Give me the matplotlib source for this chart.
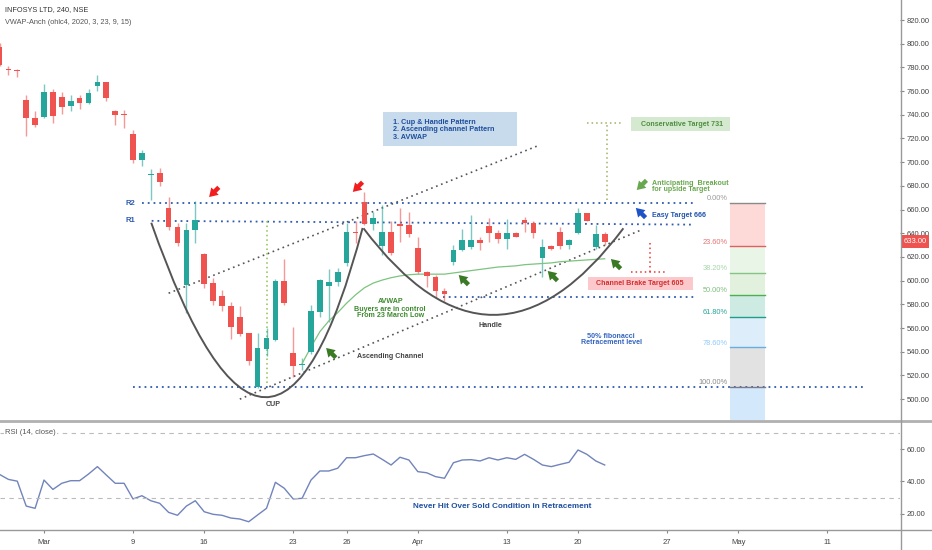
import matplotlib.pyplot as plt
from matplotlib.patches import Rectangle, PathPatch
from matplotlib.path import Path
from matplotlib.lines import Line2D
from matplotlib.transforms import blended_transform_factory

plt.rcParams['font.family'] = ['Liberation Sans', 'DejaVu Sans']

# 240 min bars, x = bar number (0 = first bar of 2 March)
bar_idx = list(range(-5, 64))
opens = [797, 779, 778, 752.5, 737.5, 738.5, 759.5, 755, 747.5, 754,
         750, 764, 768, 743, 740.5, 723.5, 702, 689, 690.5, 661,
         645.5, 596.5, 643, 622.5, 598, 587, 578.5, 569, 555.5, 510.5,
         542.5, 550, 600, 539, 528.5, 540, 573.5, 595.5, 598.5, 615,
         641.5, 666, 648, 629.5, 641.5, 647.5, 647, 627.5, 607, 603.5,
         591.5, 616, 625.5, 628, 634.5, 646.5, 640, 635, 640, 651,
         648.5, 619.5, 629, 641.5, 630, 640.5, 657, 628, 639.5]
highs = [801, 781, 779, 757, 743.5, 766, 761.5, 759, 756.5, 757,
         762, 774, 768, 744, 744, 727, 710, 694, 695, 671,
         649, 649, 667.5, 623, 602, 592, 582, 578.5, 556, 556,
         560, 601, 618, 561, 534.5, 579.5, 601, 609.5, 611, 649,
         650, 675, 658, 664, 650, 661, 658, 637, 608.5, 605,
         593.5, 630, 644, 655.5, 637, 652.5, 643, 652, 641.5, 653.5,
         650, 635, 630, 645.5, 635, 661, 657.5, 647, 641.5]
lows = [781, 774, 772, 722, 730, 737, 733, 741, 743.5, 745,
        749, 760, 752, 731, 729, 699, 697, 668.5, 680, 643,
        629, 572.5, 632, 593.5, 579.5, 574, 550.5, 553, 529, 509.5,
        536, 549, 579.5, 519, 524.5, 538.5, 569.5, 565.5, 595.5, 612.5,
        631.5, 647, 643, 622, 622, 633, 636.5, 606, 594.5, 585,
        582.5, 613, 625, 627, 626, 633, 631.5, 626.5, 636.5, 641.5,
        636, 603.5, 625.5, 627, 627, 639.5, 650, 627, 630]
closes = [782, 778, 777, 737.5, 731, 759.5, 739, 747, 751.5, 750,
          758, 768, 754, 740, 739.5, 702, 707.5, 690, 683, 645.5,
          631.5, 643, 651, 597.5, 583, 578.5, 560.5, 555, 532, 543,
          552, 600, 581, 528, 530, 574, 600.5, 598.5, 607.5, 641.5,
          640, 648, 652.5, 641, 623.5, 646.5, 639.5, 607, 604, 591.5,
          589, 626, 634, 634, 632, 640, 635.5, 640, 637, 648.5,
          640.5, 628, 626.5, 629.5, 634, 657, 650.5, 639.5, 633]

# anchored VWAP from the 23 March low
vwap_idx = list(range(29, 64))
vwap = [530, 544, 557, 566, 573, 581, 588, 594, 598, 600.5,
        602.5, 604, 605, 605.5, 605.5, 605.5, 605.5, 606.5, 607.5, 608.5,
        609.5, 610.5, 611.5, 612, 612.5, 613.5, 614, 614.5, 615, 616,
        616.5, 617, 617.5, 618, 618.5]

# RSI (14, close)
rsi = [44.3, 41.2, 40.1, 24.7, 23.3, 40.8, 35.0, 38.8, 40.4, 40.4,
       44.5, 49.1, 43.9, 38.8, 38.8, 29.1, 31.1, 28.0, 26.4, 20.8,
       19.0, 24.7, 28.0, 21.2, 19.6, 19.0, 17.3, 16.7, 15.0, 19.2,
       23.3, 39.4, 35.7, 29.1, 29.5, 40.8, 46.4, 46.4, 48.1, 54.6,
       54.6, 55.9, 56.9, 53.6, 50.1, 54.9, 53.2, 46.0, 45.3, 42.9,
       41.9, 51.5, 53.2, 53.4, 52.6, 54.6, 53.2, 54.6, 53.6, 56.7,
       53.6, 50.1, 49.1, 50.5, 51.8, 59.4, 56.7, 52.6, 50.1]

date_ticks = [0, 10, 18, 28, 34, 42, 52, 60, 70, 78, 88]
date_labels = ['Mar', '9', '16', '23', '26', 'Apr', '13', '20', '27', 'May', '11']
price_ticks = list(range(500, 821, 20))
rsi_ticks = [20, 40, 60]
last_price = 633

# fibonacci retracement 666 -> 510.5
fib_top, fib_bottom = 665.5, 510.5
fib_pcts = [0, 23.6, 38.2, 50, 61.8, 78.6, 100, 161.8]
fib_fill = ['#fdd9d7', '#e9f5e7', '#e2f1de', '#cdeae3', '#ddeefa', '#e2e2e2', '#d3e9fb']
fib_line = ['#8a8a8a', '#e06060', '#86c486', '#4caf50', '#1e9e8a', '#6aaee0', '#7a7a8a']
fib_text = ['#9a9a9a', '#e57373', '#a5d6a7', '#7cbf7c', '#26a69a', '#90caf9', '#8a8a8a']

UP, DOWN = '#26a69a', '#ef5350'
BLUE = '#2f5bb0'

fig = plt.figure(figsize=(9.32, 5.5), dpi=100)
ax = fig.add_axes([0, 130 / 550, 900 / 932, 420 / 550])
ax2 = fig.add_axes([0, 20 / 550, 900 / 932, 108 / 550])

# candles
for i, o, h, l, c in zip(bar_idx, opens, highs, lows, closes):
    col = UP if c >= o else DOWN
    ax.vlines(i, l, h, color=col, lw=1, alpha=0.6, zorder=3)
    ax.bar(i, max(abs(c - o), 0.9), bottom=min(o, c), width=0.64, color=col, zorder=4)

ax.plot(vwap_idx, vwap, color='#7cc47f', lw=0.9, zorder=3)

# horizontal levels
dot = dict(ls=(0, (1, 2.2)), lw=1.3)
ax.plot([11, 73], [665.5, 665.5], color=BLUE, **dot)
ax.plot([12.1, 73], [650.5, 647.3], color=BLUE, **dot)
ax.plot([10, 92], [510, 510], color=BLUE, **dot)
ax.plot([44.8, 73], [586, 586], color=BLUE, **dot)
ax.text(9.7, 665.5, 'R2', color=BLUE, fontsize=5.5, fontweight='bold', ha='center', va='center')
ax.text(9.7, 651, 'R1', color=BLUE, fontsize=5.5, fontweight='bold', ha='center', va='center')

# ascending channel
ax.plot([14, 55.7], [589.4, 714.5], color='#555555', ls=(0, (1, 2.2)), lw=1.2)
ax.plot([22, 67], [500, 642.5], color='#555555', ls=(0, (1, 2.2)), lw=1.2)

# cup and handle arcs
for p0, p1, p2 in [((12.05, 648.9), (25.7, 356.5), (35.8, 644.5)),
                   ((35.9, 644.2), (50.5, 498), (65.1, 644.2))]:
    path = Path([p0, p1, p2], [Path.MOVETO, Path.CURVE3, Path.CURVE3])
    ax.add_patch(PathPatch(path, fc='none', ec='#555555', lw=1.4, zorder=5))

# measured moves
ax.plot([25.05, 25.05], [650, 511], color='#8bc34a', ls=(0, (1, 2)), lw=1.1)
ax.plot([63.3, 63.3], [668, 733.3], color='#a3b060', ls=(0, (1, 2)), lw=1.1)
ax.plot([61, 64.9], [733.3, 733.3], color='#a3b060', ls=(0, (1, 2)), lw=1.1)
ax.plot([68.1, 68.1], [632, 607.6], color='#e53935', ls=(0, (1, 2)), lw=1.1)
ax.plot([66, 69.9], [607.6, 607.6], color='#e53935', ls=(0, (1, 2)), lw=1.1)

# fibonacci block
levels = [fib_top - (fib_top - fib_bottom) * p / 100 for p in fib_pcts]
for k in range(len(fib_fill)):
    ax.add_patch(Rectangle((77.1, levels[k + 1]), 3.9, levels[k] - levels[k + 1],
                           fc=fib_fill[k], ec='none', zorder=1))
    ax.plot([77.1, 81], [levels[k], levels[k]], color=fib_line[k], lw=1, zorder=2)
    ax.text(76.8, levels[k] + 3.6, '%.2f%%' % fib_pcts[k], color=fib_text[k],
            fontsize=5.3, ha='right', va='center')

# text boxes
ax.add_patch(Rectangle((38.1, 713.9), 15, 28.7, fc='#c7dbed', ec='none', zorder=2))
for txt, p in zip(['1. Cup & Handle Pattern', '2. Ascending channel Pattern', '3. AVWAP'],
                  [733.3, 727.2, 721.2]):
    ax.text(39.2, p, txt, color='#1f4e9d', fontsize=5.2, fontweight='bold', va='center')

ax.add_patch(Rectangle((66, 726.6), 11.1, 11.3, fc='#d5e9d0', ec='none', zorder=2))
ax.text(71.7, 732.2, 'Conservative Target 731', color='#4e8f3e', fontsize=5.1,
        fontweight='bold', ha='center', va='center')

ax.add_patch(Rectangle((61.1, 592.2), 11.8, 11.2, fc='#fbc9cc', ec='none', zorder=2))
ax.text(67, 597.8, 'Channel Brake Target 605', color='#d32f2f', fontsize=5.1,
        fontweight='bold', ha='center', va='center')

ax.text(68.3, 682.4, 'Anticipating  Breakout', color='#6aa84f', fontsize=5.1, fontweight='bold', va='center')
ax.text(68.3, 676.6, 'for upside Target', color='#6aa84f', fontsize=5.1, fontweight='bold', va='center')
ax.text(68.3, 654.6, 'Easy Target 666', color='#2255b0', fontsize=5.1, fontweight='bold', va='center')

for txt, p in zip(['AVWAP', 'Buyers are in control', 'From 23 March Low'], [582, 576, 570.2]):
    ax.text(38.9, p, txt, color='#3d8a2e', fontsize=5.1, fontweight='bold', ha='center', va='center')
ax.text(38.9, 535.6, 'Ascending Channel', color='#444444', fontsize=5.1, fontweight='bold', ha='center', va='center')
ax.text(50.2, 561.8, 'Handle', color='#444444', fontsize=5.1, fontweight='bold', ha='center', va='center')
ax.text(25.8, 495.1, 'CUP', color='#444444', fontsize=5.1, fontweight='bold', ha='center', va='center')
ax.text(63.7, 553.3, '50% fibonacci', color='#3566c0', fontsize=5.1, fontweight='bold', ha='center', va='center')
ax.text(63.8, 547.8, 'Retracement level', color='#3566c0', fontsize=5.1, fontweight='bold', ha='center', va='center')

# arrow markers (tip position, tail offset in points)
arrow = 'simple,head_width=0.75,head_length=0.6,tail_width=0.32'
for tip, off, col in [((18.55, 670.6), (7, 7), '#f01e1e'),
                      ((34.7, 674.9), (7, 7), '#f01e1e'),
                      ((31.7, 543.2), (7, -7), '#3b7a24'),
                      ((46.6, 604.8), (7, -7), '#3b7a24'),
                      ((56.6, 608.2), (7, -7), '#3b7a24'),
                      ((63.7, 618.3), (7, -7), '#3b7a24'),
                      ((66.6, 676.5), (7, 7), '#6aa84f'),
                      ((66.5, 661.4), (7, -7), '#1e53c8')]:
    ax.annotate('', xy=tip, xytext=off, textcoords='offset points',
                arrowprops=dict(arrowstyle=arrow, color=col, lw=0, mutation_scale=10,
                                shrinkA=0, shrinkB=0), zorder=6)

# price axes
ax.set_xlim(-4.944, 96.18)
ax.set_ylim(482.4, 836.9)
ax.yaxis.tick_right()
ax.set_yticks(price_ticks)
ax.set_yticklabels(['%.2f' % v for v in price_ticks])
ax.tick_params(axis='y', length=3, color='#888888', labelsize=5.5, labelcolor='#444444', pad=2)
ax.set_xticks([])
for s in ax.spines.values():
    s.set_visible(False)
tr = blended_transform_factory(ax.transAxes, ax.transData)
ax.text(1.004, last_price, '%.2f' % last_price, transform=tr, color='white', fontsize=5.5,
        va='center', ha='left', clip_on=False,
        bbox=dict(boxstyle='square,pad=0.35', fc='#ef5350', ec='none'))

fig.text(5 / 932, 1 - 10 / 550, 'INFOSYS LTD, 240, NSE', color='#333333', fontsize=5.3, va='center')
fig.text(5 / 932, 1 - 22 / 550, 'VWAP-Anch (ohlc4, 2020, 3, 23, 9, 15)', color='#555555', fontsize=5.3, va='center')

# RSI pane
ax2.plot(bar_idx, rsi, color='#7184bb', lw=1)
ax2.axhline(70, color='#bbbbbb', ls=(0, (4, 4)), lw=0.8)
ax2.axhline(30, color='#bbbbbb', ls=(0, (4, 4)), lw=0.8)
ax2.set_xlim(-4.944, 96.18)
ax2.set_ylim(9.9, 76.7)
ax2.yaxis.tick_right()
ax2.set_yticks(rsi_ticks)
ax2.set_yticklabels(['%.2f' % v for v in rsi_ticks])
ax2.tick_params(axis='y', length=3, color='#888888', labelsize=5.5, labelcolor='#444444', pad=2)
ax2.set_xticks(date_ticks)
ax2.set_xticklabels(date_labels)
ax2.tick_params(axis='x', length=2, color='#888888', labelsize=5.5, labelcolor='#444444', pad=4.5)
for s in ax2.spines.values():
    s.set_visible(False)
ax2.text(-4.4, 70.1, 'RSI (14, close)', color='#555555', fontsize=5.5, va='center',
         bbox=dict(boxstyle='square,pad=0.15', fc='white', ec='none'))
ax2.text(51.5, 24.2, 'Never Hit Over Sold Condition in Retracement', color='#1e4fa0', fontsize=5.9,
         fontweight='bold', ha='center', va='center')

# pane borders
fig.add_artist(Line2D([0, 1], [129 / 550, 129 / 550], color='#b0b0b0', lw=2))
fig.add_artist(Line2D([0, 1], [20 / 550, 20 / 550], color='#999999', lw=1))
fig.add_artist(Line2D([900.5 / 932, 900.5 / 932], [0, 1], color='#999999', lw=1))

fig.savefig('out.png', dpi=100)
